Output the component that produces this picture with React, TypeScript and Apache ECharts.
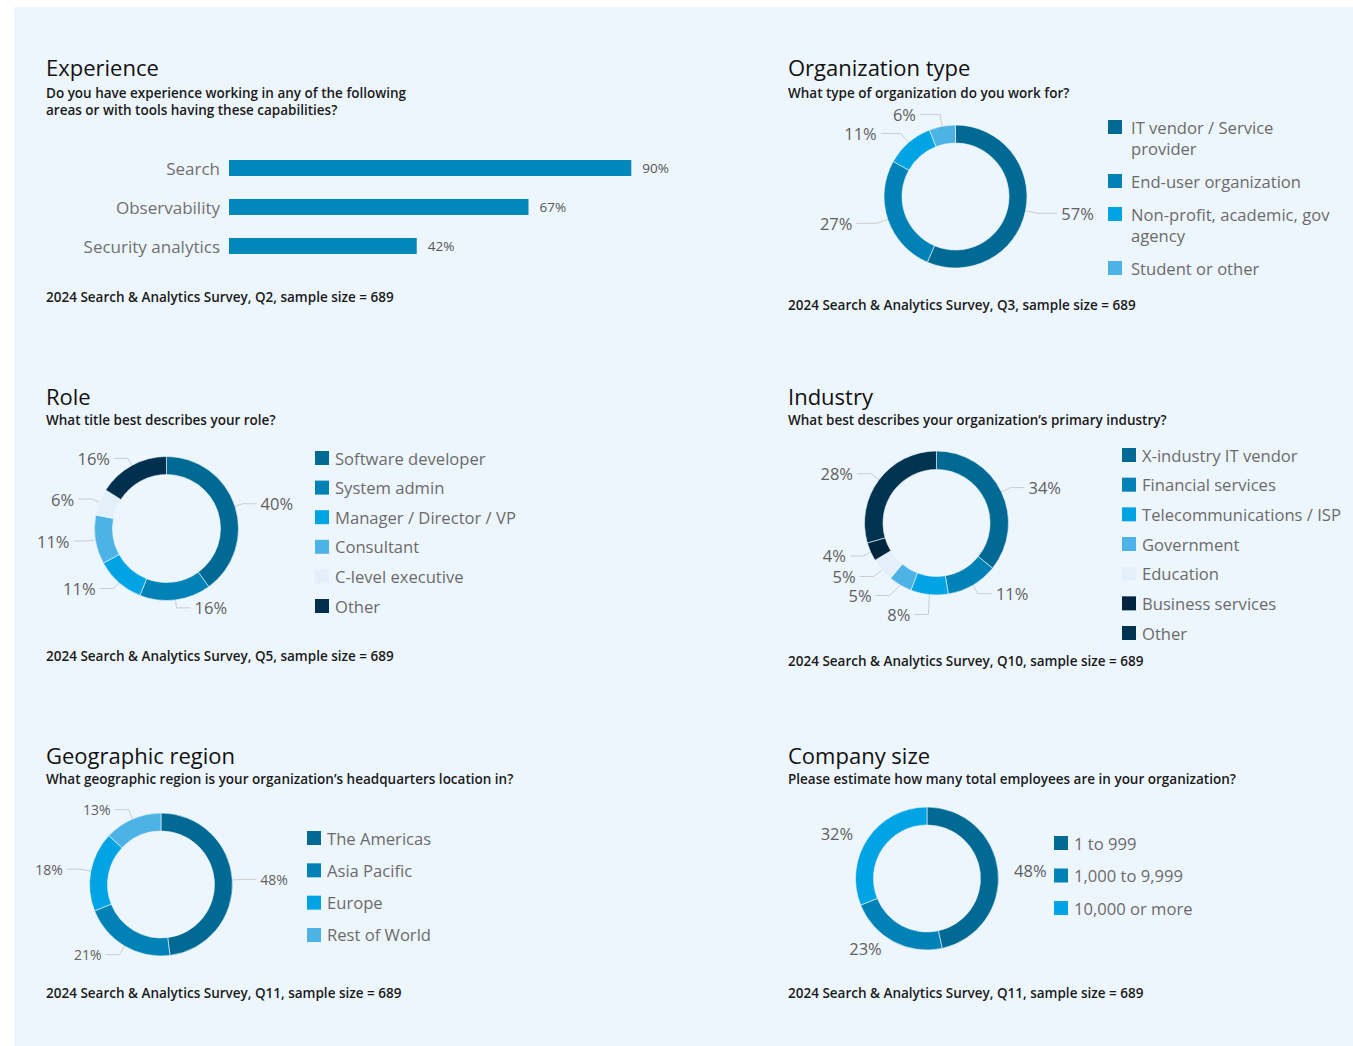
import React, { useEffect, useRef } from 'react';
import * as echarts from 'echarts';

const FONT = '"Open Sans", "Noto Sans", sans-serif';

// ---- Data ----
const expCategories = ['Search', 'Observability', 'Security analytics'];
const expValues = [90, 67, 42];

const orgCategories = ['IT vendor / Service provider', 'End-user organization', 'Non-profit, academic, gov agency', 'Student or other'];
const orgLegendText = ['IT vendor / Service\nprovider', 'End-user organization', 'Non-profit, academic, gov\nagency', 'Student or other'];
const orgValues = [57, 27, 11, 6];

const roleCategories = ['Software developer', 'System admin', 'Manager / Director / VP', 'Consultant', 'C-level executive', 'Other'];
const roleValues = [40, 16, 11, 11, 6, 16];

const industryCategories = ['X-industry IT vendor', 'Financial services', 'Telecommunications / ISP', 'Government', 'Education', 'Business services', 'Other'];
const industryValues = [34, 11, 8, 5, 5, 4, 28];

const regionCategories = ['The Americas', 'Asia Pacific', 'Europe', 'Rest of World'];
const regionValues = [48, 21, 18, 13];

const sizeCategories = ['1 to 999', '1,000 to 9,999', '10,000 or more'];
const sizeValues = [48, 23, 32];

// ---- Styles ----
const BG = '#eef6fd';
const BAR = '#0088bb';
const palette = ['#006a94', '#0082b7', '#00a4e4', '#4db3e6', '#e3f0fa', '#00304d'];
const industryPalette = ['#006a94', '#0082b7', '#00a4e4', '#4db3e6', '#e3f0fa', '#00253f', '#003350'];

const headings = [
  { text: 'Experience', left: 46, top: 56 },
  { text: 'Organization type', left: 788, top: 56 },
  { text: 'Role', left: 46, top: 385 },
  { text: 'Industry', left: 788, top: 385 },
  { text: 'Geographic region', left: 46, top: 744 },
  { text: 'Company size', left: 788, top: 744 },
];
const subtitles = [
  { text: 'Do you have experience working in any of the following\nareas or with tools having these capabilities?', left: 46, top: 84 },
  { text: 'What type of organization do you work for?', left: 788, top: 84 },
  { text: 'What title best describes your role?', left: 46, top: 411.5 },
  { text: 'What best describes your organization\u2019s primary industry?', left: 788, top: 411.5 },
  { text: 'What geographic region is your organization\u2019s headquarters location in?', left: 46, top: 770 },
  { text: 'Please estimate how many total employees are in your organization?', left: 788, top: 770 },
];
const footers = [
  { text: '2024 Search & Analytics Survey, Q2, sample size = 689', left: 46, top: 288.5 },
  { text: '2024 Search & Analytics Survey, Q3, sample size = 689', left: 788, top: 296.5 },
  { text: '2024 Search & Analytics Survey, Q5, sample size = 689', left: 46, top: 647.5 },
  { text: '2024 Search & Analytics Survey, Q10, sample size = 689', left: 788, top: 652.5 },
  { text: '2024 Search & Analytics Survey, Q11, sample size = 689', left: 46, top: 984.5 },
  { text: '2024 Search & Analytics Survey, Q11, sample size = 689', left: 788, top: 984.5 },
];

const key = (id: string, n: string) => `${id}|${n}`;
const unkey = (n: string) => n.split('|').slice(1).join('|');

function pieSeries(id: string, names: string[], values: number[], colors: string[], center: number[], radius: number[], labelSize: number, showLine: boolean, len: number, len2: number) {
  return {
    type: 'pie',
    id,
    center,
    radius,
    startAngle: 90,
    clockwise: true,
    avoidLabelOverlap: true,
    itemStyle: { borderColor: BG, borderWidth: 0.6 },
    label: {
      show: true,
      position: 'outside',
      formatter: '{c}%',
      fontSize: labelSize,
      color: '#606060',
      fontFamily: FONT,
      distanceToLabelLine: 4,
    },
    labelLine: {
      show: showLine,
      length: len,
      length2: len2,
      lineStyle: { color: '#cccccc', width: 1 },
    },
    emphasis: { disabled: true },
    data: names.map((n, i) => ({ name: key(id, n), value: values[i], itemStyle: { color: colors[i] } })),
  };
}

function legend(id: string, names: string[], left: number, top: number, itemGap: number) {
  return {
    orient: 'vertical',
    left,
    top,
    padding: 0,
    itemWidth: 14,
    itemHeight: 14,
    itemGap,
    icon: 'rect',
    selectedMode: false,
    itemStyle: { borderWidth: 0 },
    data: names.map((n) => key(id, n)),
    formatter: (n: string) => unkey(n),
    textStyle: { fontSize: 16.6, color: '#6b6b6b', fontFamily: FONT, lineHeight: 17, padding: [0, 0, 0, 1] },
  };
}

const ICON_TOP = 'path://M0,0L14,0L14,14L0,14ZM0,35L14,35';
const ICON_MID = 'path://M0,0L14,0M0,10.5L14,10.5L14,24.5L0,24.5ZM0,35L14,35';

function App() {
  const ref = useRef<HTMLDivElement>(null);
  useEffect(() => {
    document.body.style.margin = '0';
    if (!ref.current) return;
    const chart = echarts.init(ref.current, null, { renderer: 'svg' });

    const titleOpts: any[] = [];
    headings.forEach((h) => titleOpts.push({ text: h.text, left: h.left, top: h.top, padding: 0, textStyle: { fontSize: 22, lineHeight: 22, fontWeight: 400, color: '#111111', fontFamily: FONT } }));
    subtitles.forEach((h) => titleOpts.push({ text: h.text, left: h.left, top: h.top, padding: 0, textStyle: { fontSize: 13.5, lineHeight: 17, fontWeight: 600, color: '#1a1a1a', fontFamily: FONT } }));
    footers.forEach((h) => titleOpts.push({ text: h.text, left: h.left, top: h.top, padding: 0, textStyle: { fontSize: 13.5, lineHeight: 17, fontWeight: 600, color: '#1a1a1a', fontFamily: FONT } }));

    const orgLegend = {
      orient: 'vertical',
      left: 1108,
      top: 116.5,
      padding: 0,
      itemWidth: 14,
      itemHeight: 35,
      itemGap: 5,
      selectedMode: false,
      itemStyle: { borderWidth: 0 },
      data: orgCategories.map((n, i) => ({ name: key('org', n), icon: orgLegendText[i].includes('\n') ? ICON_TOP : ICON_MID })),
      formatter: (n: string) => orgLegendText[orgCategories.indexOf(unkey(n))],
      textStyle: { fontSize: 16.6, color: '#6b6b6b', fontFamily: FONT, lineHeight: 21, padding: [0, 0, 0, 4] },
    };

    const option: any = {
      animation: false,
      graphic: {
        elements: [
          { type: 'rect', z: -10, silent: true, shape: { x: 14, y: 7, width: 1339, height: 1039 }, style: { fill: BG } },
        ],
      },
      title: titleOpts,
      legend: [
        orgLegend,
        legend('role', roleCategories, 315, 449.5, 12.6),
        legend('ind', industryCategories, 1122, 446.5, 12.67),
        legend('reg', regionCategories, 307, 829.5, 15.33),
        legend('size', sizeCategories, 1054, 834.5, 15.5),
      ],
      grid: { left: 229, top: 148.5, width: 447, height: 117, containLabel: false },
      xAxis: { type: 'value', min: 0, max: 100, show: false },
      yAxis: {
        type: 'category',
        data: expCategories,
        inverse: true,
        axisLine: { show: false },
        axisTick: { show: false },
        splitLine: { show: false },
        axisLabel: { fontSize: 17, color: '#707070', margin: 9, fontFamily: FONT },
      },
      series: [
        {
          type: 'bar',
          data: expValues,
          barWidth: 16,
          itemStyle: { color: BAR },
          emphasis: { disabled: true },
          label: { show: true, position: 'right', distance: 11, formatter: '{c}%', fontSize: 13.5, color: '#555555', fontFamily: FONT },
        },
        pieSeries('org', orgCategories, orgValues, palette, [955.5, 196.5], [53.5, 71.5], 16.5, true, 12, 20),
        pieSeries('role', roleCategories, roleValues, palette, [166.5, 528.5], [54, 72], 16.5, true, 8, 14),
        pieSeries('ind', industryCategories, industryValues, industryPalette, [936.5, 523], [53.5, 72], 16.5, true, 10, 14),
        pieSeries('reg', regionCategories, regionValues, palette, [161, 884.5], [53.5, 71.5], 14, true, 10, 14),
        pieSeries('size', sizeCategories, sizeValues, palette, [927, 878.5], [53.5, 71.5], 16.5, false, 8, 4),
      ],
    };
    chart.setOption(option);
    return () => chart.dispose();
  }, []);
  return <div ref={ref} style={{ width: 1353, height: 1046, background: '#ffffff' }} />;
}

export default App;
